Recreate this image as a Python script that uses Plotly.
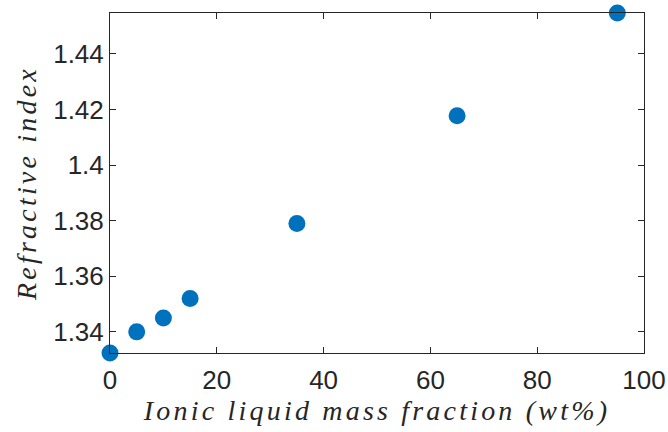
import plotly.graph_objects as go

mass_fraction = [0, 5, 10, 15, 35, 65, 95]
refractive_index = [1.3324, 1.340, 1.345, 1.352, 1.379, 1.4177, 1.4547]

x_ticks = [0, 20, 40, 60, 80, 100]
x_tick_text = ["0", "20", "40", "60", "80", "100"]
y_ticks = [1.34, 1.36, 1.38, 1.40, 1.42, 1.44]
y_tick_text = ["1.34", "1.36", "1.38", "1.4", "1.42", "1.44"]

axis_col = "#262626"
title_font = dict(family="Liberation Serif, DejaVu Serif, serif", size=28, style="italic", color=axis_col)

fig = go.Figure()
fig.add_trace(go.Scatter(
    x=mass_fraction, y=refractive_index, mode="markers",
    marker=dict(color="#0072BD", size=17, line=dict(width=0)),
    cliponaxis=False, showlegend=False,
))

fig.update_layout(
    width=668, height=432,
    margin=dict(l=110, r=24, t=13, b=79),
    plot_bgcolor="white", paper_bgcolor="white",
    font=dict(family="Liberation Sans, Arial, sans-serif", size=26, color=axis_col),
)
fig.update_xaxes(
    range=[0, 100], tickvals=x_ticks, ticktext=x_tick_text, automargin=False,
    showgrid=False, zeroline=False, showline=True, linecolor=axis_col, linewidth=1,
    mirror="ticks", ticks="inside", ticklen=6, tickcolor=axis_col, ticklabelstandoff=4,
    title=dict(text='<span style="letter-spacing:3.2px">Ionic liquid mass fraction (wt%)</span>',
               font=title_font, standoff=4),
)
fig.update_yaxes(
    range=[1.3324, 1.4547], tickvals=y_ticks, ticktext=y_tick_text, automargin=False,
    showgrid=False, zeroline=False, showline=True, linecolor=axis_col, linewidth=1,
    mirror="ticks", ticks="inside", ticklen=6, tickcolor=axis_col,
    title=dict(text='<span style="letter-spacing:3.2px">Refractive index</span>',
               font=title_font, standoff=8),
)

fig.write_html("out.html")
